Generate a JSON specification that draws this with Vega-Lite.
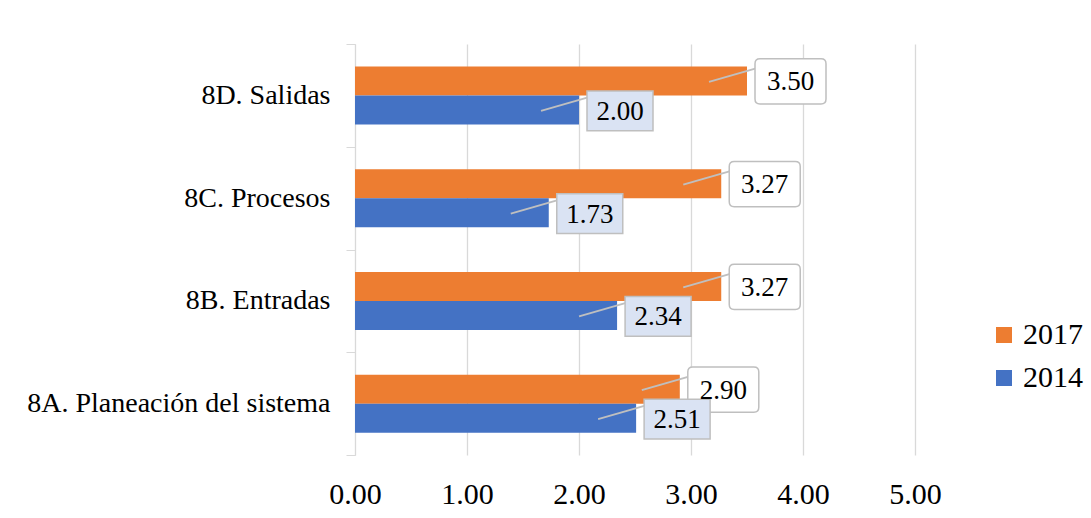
{
  "$schema": "https://vega.github.io/schema/vega-lite/v6.json",
  "width": 560,
  "height": 411,
  "autosize": {"type": "none"},
  "padding": {"left": 355, "top": 44, "right": 176, "bottom": 63},
  "background": "white",
  "config": {
    "view": {"stroke": null},
    "font": "Liberation Serif",
    "text": {"font": "Liberation Serif"}
  },
  "data": {
    "values": [
      {"cat": "8D. Salidas", "serie": "2017", "valor": 3.50},
      {"cat": "8D. Salidas", "serie": "2014", "valor": 2.00},
      {"cat": "8C. Procesos", "serie": "2017", "valor": 3.27},
      {"cat": "8C. Procesos", "serie": "2014", "valor": 1.73},
      {"cat": "8B. Entradas", "serie": "2017", "valor": 3.27},
      {"cat": "8B. Entradas", "serie": "2014", "valor": 2.34},
      {"cat": "8A. Planeación del sistema", "serie": "2017", "valor": 2.90},
      {"cat": "8A. Planeación del sistema", "serie": "2014", "valor": 2.51}
    ]
  },
  "encoding": {
    "y": {
      "field": "cat",
      "type": "nominal",
      "sort": ["8D. Salidas", "8C. Procesos", "8B. Entradas", "8A. Planeación del sistema"],
      "scale": {"paddingInner": 0, "paddingOuter": 0},
      "axis": {
        "title": null,
        "tickBand": "extent",
        "domainColor": "#d9d9d9",
        "tickColor": "#d9d9d9",
        "tickSize": 9,
        "labelFont": "Liberation Serif",
        "labelFontSize": 28,
        "labelColor": "#000000",
        "labelPadding": 16,
        "labelLimit": 400
      }
    },
    "x": {
      "field": "valor",
      "type": "quantitative",
      "scale": {"domain": [0, 5], "nice": false, "zero": true},
      "axis": {
        "title": null,
        "values": [0, 1, 2, 3, 4, 5],
        "format": ".2f",
        "domain": false,
        "ticks": false,
        "grid": true,
        "gridColor": "#d9d9d9",
        "gridWidth": 1.3,
        "labelFont": "Liberation Serif",
        "labelFontSize": 30,
        "labelColor": "#000000",
        "labelPadding": 24,
        "labelFlush": false
      }
    }
  },
  "layer": [
    {
      "transform": [{"filter": "datum.serie == '2017'"}],
      "mark": {"type": "bar", "height": 29, "yOffset": -14.5},
      "encoding": {
        "color": {
          "field": "serie",
          "type": "nominal",
          "scale": {"domain": ["2017", "2014"], "range": ["#ED7D31", "#4472C4"]},
          "legend": {
            "title": null,
            "orient": "none",
            "legendX": 634,
            "legendY": 276,
            "symbolType": "square",
            "symbolSize": 256,
            "symbolStrokeWidth": 0,
            "labelFont": "Liberation Serif",
            "labelFontSize": 30,
            "labelColor": "#000000",
            "labelOffset": 4,
            "rowPadding": 13
          }
        }
      }
    },
    {
      "transform": [{"filter": "datum.serie == '2014'"}],
      "mark": {"type": "bar", "height": 29, "yOffset": 14.5},
      "encoding": {
        "color": {"field": "serie", "type": "nominal"}
      }
    },
    {
      "transform": [{"filter": "datum.serie == '2017'"}],
      "mark": {"type": "rule", "color": "#bfbfbf", "strokeWidth": 2, "xOffset": -38, "x2Offset": 9, "yOffset": -13.5, "y2Offset": -27},
      "encoding": {
        "x2": {"field": "valor"},
        "y2": {"field": "cat"}
      }
    },
    {
      "transform": [{"filter": "datum.serie == '2014'"}],
      "mark": {"type": "rule", "color": "#bfbfbf", "strokeWidth": 2, "xOffset": -38, "x2Offset": 9, "yOffset": 15.5, "y2Offset": 2},
      "encoding": {
        "x2": {"field": "valor"},
        "y2": {"field": "cat"}
      }
    },
    {
      "transform": [{"filter": "datum.serie == '2017'"}],
      "mark": {
        "type": "point",
        "shape": "M-0.86,-0.634Q-1,-0.634 -1,-0.494V0.494Q-1,0.634 -0.86,0.634H0.86Q1,0.634 1,0.494V-0.494Q1,-0.634 0.86,-0.634Z",
        "size": 5041,
        "filled": true,
        "fill": "#ffffff",
        "stroke": "#bfbfbf",
        "strokeWidth": 1.5,
        "opacity": 1,
        "xOffset": 43.5,
        "yOffset": -14
      }
    },
    {
      "transform": [{"filter": "datum.serie == '2014'"}],
      "mark": {
        "type": "point",
        "shape": "M-1,-0.606H1V0.606H-1Z",
        "size": 4356,
        "filled": true,
        "fill": "#DAE3F3",
        "stroke": "#bfbfbf",
        "strokeWidth": 1.5,
        "opacity": 1,
        "xOffset": 41,
        "yOffset": 15.5
      }
    },
    {
      "transform": [{"filter": "datum.serie == '2017'"}],
      "mark": {"type": "text", "font": "Liberation Serif", "fontSize": 27, "color": "#000000", "align": "center", "baseline": "middle", "xOffset": 43.5, "yOffset": -13},
      "encoding": {"text": {"field": "valor", "type": "quantitative", "format": ".2f"}}
    },
    {
      "transform": [{"filter": "datum.serie == '2014'"}],
      "mark": {"type": "text", "font": "Liberation Serif", "fontSize": 27, "color": "#000000", "align": "center", "baseline": "middle", "xOffset": 41, "yOffset": 16.5},
      "encoding": {"text": {"field": "valor", "type": "quantitative", "format": ".2f"}}
    }
  ]
}
